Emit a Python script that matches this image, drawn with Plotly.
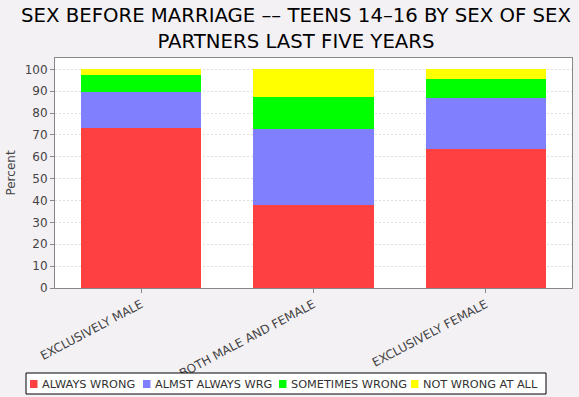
import plotly.graph_objects as go

categories = ["EXCLUSIVELY MALE", "BOTH MALE AND FEMALE", "EXCLUSIVELY FEMALE"]
series_names = ["ALWAYS WRONG", "ALMST ALWAYS WRG", "SOMETIMES WRONG", "NOT WRONG AT ALL"]
always_wrong = [73.1, 37.9, 63.6]
almst_always_wrg = [16.5, 34.9, 23.4]
sometimes_wrong = [7.8, 14.6, 8.7]
not_wrong_at_all = [2.6, 12.6, 4.3]
colors = ["#FF4040", "#8080FF", "#00FF00", "#FFFF00"]
series_values = [always_wrong, almst_always_wrg, sometimes_wrong, not_wrong_at_all]

W, H = 579, 397
ML, MR, MT, MB = 55, 7, 58, 109
PW, PH = W - ML - MR, H - MT - MB

def px(x):
    return (x - ML) / PW

def py(y):
    return (H - MB - y) / PH

fig = go.Figure()
for name, vals, col in zip(series_names, series_values, colors):
    fig.add_trace(go.Bar(x=categories, y=vals, name=name, marker=dict(color=col, line=dict(width=0)),
                         width=0.7, showlegend=False))

font = "DejaVu Sans, sans-serif"

# legend drawn as a boxed row (layout positions in pixels)
legend_item_x = [30, 143, 279, 411]
shapes = [dict(type="rect", xref="paper", yref="paper", x0=px(26), x1=px(546), y0=py(394), y1=py(373),
               line=dict(color="#000000", width=1), fillcolor="#FFFFFF", layer="above")]
annotations = []
for name, col, lx in zip(series_names, colors, legend_item_x):
    shapes.append(dict(type="rect", xref="paper", yref="paper", x0=px(lx), x1=px(lx + 7.5),
                       y0=py(388), y1=py(380), line=dict(width=0), fillcolor=col, layer="above"))
    annotations.append(dict(text=name, xref="paper", yref="paper", x=px(lx + 10), y=py(384),
                            xanchor="left", yanchor="middle", showarrow=False,
                            font=dict(family=font, size=11.3, color="#333333")))

annotations.append(dict(text="SEX BEFORE MARRIAGE –– TEENS 14–16 BY SEX OF SEX<br>PARTNERS LAST FIVE YEARS",
                        xref="paper", yref="paper", x=px(296), y=py(2), xanchor="center", yanchor="top",
                        showarrow=False, align="center",
                        font=dict(family=font, size=19.7, color="#000000")))

fig.update_layout(
    barmode="stack",
    width=W, height=H,
    paper_bgcolor="#F4F1F5",
    plot_bgcolor="#FFFFFF",
    margin=dict(l=ML, r=MR, t=MT, b=MB, autoexpand=False),
    font=dict(family=font, size=12, color="#444444"),
    showlegend=False,
    bargap=0.3,
    shapes=shapes,
    annotations=annotations,
)
fig.update_xaxes(tickangle=-28, showline=True, linecolor="#888888", mirror=True,
                 ticks="outside", ticklen=4, tickcolor="#888888",
                 tickfont=dict(family=font, size=12, color="#444444"), showgrid=False)
fig.update_yaxes(range=[0, 105.2], dtick=10, showline=True, linecolor="#888888", mirror=True,
                 ticks="outside", ticklen=4, tickcolor="#888888",
                 gridcolor="#DDDDDD", griddash="2px,2px", gridwidth=1,
                 title=dict(text="Percent", font=dict(family=font, size=12, color="#444444"), standoff=6),
                 tickfont=dict(family=font, size=12, color="#444444"), zeroline=False)

fig.write_html("out.html", config={"displayModeBar": False},
               post_script="document.body.style.margin='0';document.body.style.background='#F4F1F5';")
